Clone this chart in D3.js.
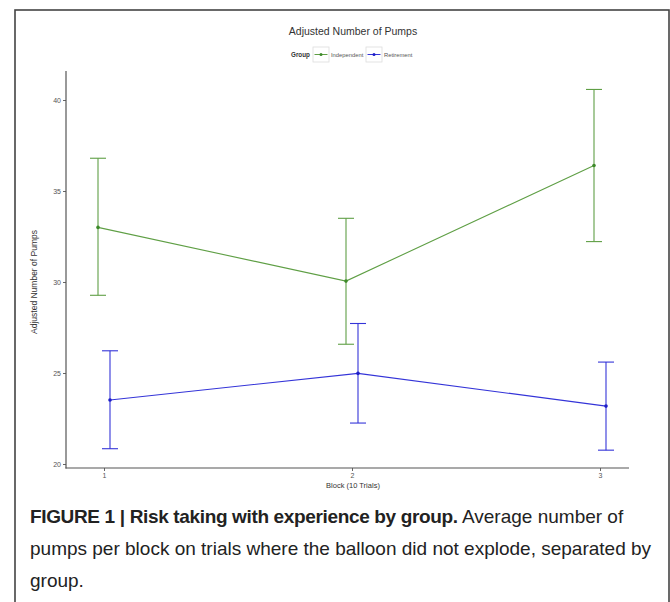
<!DOCTYPE html>
<html><head><meta charset="utf-8">
<script src="https://cdn.jsdelivr.net/npm/d3@7"></script>
<style>body{margin:0;background:#fff;} svg{display:block;}</style>
</head><body>
<svg id="c" width="670" height="602"></svg>
<script>
const blocks = [1, 2, 3];
const groups = ["Independent", "Retirement"];
const independentMean = [33.0, 30.05, 36.4];
const independentUpper = [36.8, 33.5, 40.58];
const independentLower = [29.27, 26.58, 32.22];
const retirementMean = [23.52, 24.98, 23.18];
const retirementUpper = [26.22, 27.72, 25.6];
const retirementLower = [20.84, 22.25, 20.76];
const yTicks = [20, 25, 30, 35, 40];
const colors = {Independent: "#5f9f45", Retirement: "#3434d8"};
const pointColors = {Independent: "#3d8a2a", Retirement: "#1e1ec8"};

const series = [
  {name: "Independent", mean: independentMean, up: independentUpper, lo: independentLower, side: -1},
  {name: "Retirement", mean: retirementMean, up: retirementUpper, lo: retirementLower, side: 1}
];

const svg = d3.select("#c");
const font = "'Liberation Sans', Arial, sans-serif";

// outer frame
svg.append("rect").attr("x", 15).attr("y", 10).attr("width", 654).attr("height", 610)
  .attr("fill", "none").attr("stroke", "#444").attr("stroke-width", 1.6);

const x = d3.scaleLinear().domain([1, 3]).range([104, 600]);
const y = d3.scaleLinear().domain([20, 40]).range([464, 100]);

// axes
const gy = svg.append("g").attr("transform", "translate(66,0)")
  .call(d3.axisLeft(y).tickValues(yTicks).tickFormat(d3.format("d")).tickSize(3).tickPadding(2));
const gx = svg.append("g").attr("transform", "translate(0,468)")
  .call(d3.axisBottom(x).tickValues(blocks).tickFormat(d3.format("d")).tickSize(3).tickPadding(2));
[gx, gy].forEach(g => {
  g.select(".domain").remove();
  g.selectAll("line").attr("stroke", "#666");
  g.selectAll("text").attr("font-family", font).attr("font-size", 7).attr("fill", "#555");
});
svg.append("line").attr("x1", 66).attr("x2", 66).attr("y1", 71).attr("y2", 468.5).attr("stroke", "#555").attr("stroke-width", 1.2);
svg.append("line").attr("x1", 65.5).attr("x2", 629).attr("y1", 468).attr("y2", 468).attr("stroke", "#555").attr("stroke-width", 1.2);

// series
const cap = 8;
series.forEach(s => {
  const c = colors[s.name];
  const pts = blocks.map((b, i) => ({bx: x(b) + s.side * 6, m: s.mean[i], u: s.up[i], l: s.lo[i]}));
  const line = d3.line().x(d => d.bx).y(d => y(d.m));
  svg.append("path").datum(pts).attr("d", line).attr("fill", "none").attr("stroke", c).attr("stroke-width", 1.1);
  const eb = svg.append("g");
  pts.forEach(d => {
    eb.append("line").attr("x1", d.bx).attr("x2", d.bx).attr("y1", y(d.u)).attr("y2", y(d.l)).attr("stroke", c).attr("stroke-width", 1.1);
    eb.append("line").attr("x1", d.bx - cap).attr("x2", d.bx + cap).attr("y1", y(d.u)).attr("y2", y(d.u)).attr("stroke", c).attr("stroke-width", 1.1);
    eb.append("line").attr("x1", d.bx - cap).attr("x2", d.bx + cap).attr("y1", y(d.l)).attr("y2", y(d.l)).attr("stroke", c).attr("stroke-width", 1.1);
    svg.append("circle").attr("cx", d.bx).attr("cy", y(d.m)).attr("r", 1.8).attr("fill", pointColors[s.name]);
  });
});

// title
svg.append("text").attr("x", 353).attr("y", 35).attr("text-anchor", "middle")
  .attr("font-family", font).attr("font-size", 10.5).attr("fill", "#333").text("Adjusted Number of Pumps");

// legend
const lg = svg.append("g");
lg.append("text").attr("x", 291).attr("y", 57).attr("font-family", font).attr("font-size", 6.3)
  .attr("font-weight", "bold").attr("fill", "#333").text("Group");
const keys = [{name: "Independent", kx: 313, tx: 331}, {name: "Retirement", kx: 366, tx: 384}];
keys.forEach(k => {
  lg.append("rect").attr("x", k.kx).attr("y", 47).attr("width", 16).attr("height", 15)
    .attr("fill", "#fff").attr("stroke", "#ddd").attr("stroke-width", 0.8);
  lg.append("line").attr("x1", k.kx + 1.5).attr("x2", k.kx + 14.5).attr("y1", 54.5).attr("y2", 54.5)
    .attr("stroke", colors[k.name]).attr("stroke-width", 1);
  lg.append("circle").attr("cx", k.kx + 8).attr("cy", 54.5).attr("r", 1.5).attr("fill", pointColors[k.name]);
  lg.append("text").attr("x", k.tx).attr("y", 57).attr("font-family", font).attr("font-size", 5.8)
    .attr("fill", "#555").text(k.name);
});

// axis labels
svg.append("text").attr("transform", "translate(37,282) rotate(-90)").attr("text-anchor", "middle")
  .attr("font-family", font).attr("font-size", 8.5).attr("fill", "#333").text("Adjusted Number of Pumps");
svg.append("text").attr("x", 353).attr("y", 488).attr("text-anchor", "middle")
  .attr("font-family", font).attr("font-size", 7.5).attr("fill", "#333").text("Block (10 Trials)");

// caption
const cap1 = svg.append("text").attr("x", 30).attr("y", 523).attr("font-family", font).attr("font-size", 19).attr("fill", "#222");
cap1.append("tspan").attr("font-weight", "bold").attr("letter-spacing", -0.35).text("FIGURE 1 | Risk taking with experience by group.");
cap1.append("tspan").text(" Average number of");
svg.append("text").attr("x", 30).attr("y", 555).attr("font-family", font).attr("font-size", 19).attr("fill", "#222")
  .text("pumps per block on trials where the balloon did not explode, separated by");
svg.append("text").attr("x", 30).attr("y", 587).attr("font-family", font).attr("font-size", 19).attr("fill", "#222")
  .text("group.");
</script>
</body></html>
